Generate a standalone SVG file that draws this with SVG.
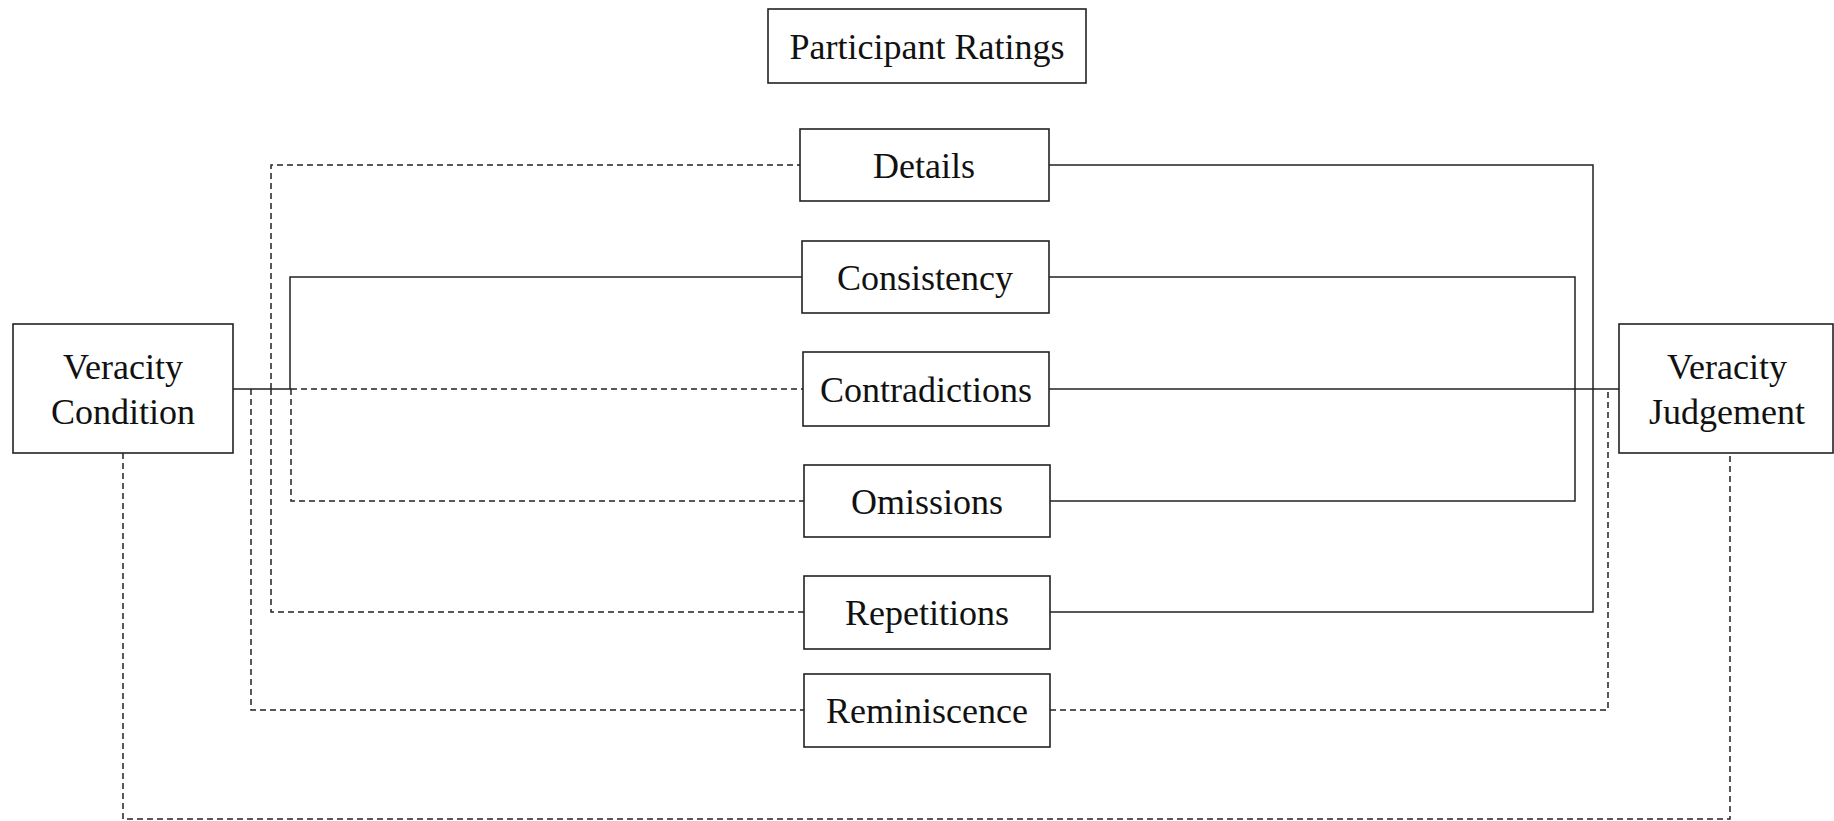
<svg xmlns="http://www.w3.org/2000/svg" width="1834" height="821" viewBox="0 0 1834 821">
<style>
.box{fill:#fff;stroke:#222;stroke-width:1.6}
.t{font-family:"Liberation Serif","Times New Roman",serif;font-size:36px;fill:#111;text-anchor:middle}
.s{fill:none;stroke:#222;stroke-width:1.5}
.d{fill:none;stroke:#222;stroke-width:1.5;stroke-dasharray:6 4}
</style>
<rect width="1834" height="821" fill="#fff"/>
<g id="connectors">
<path class="s" d="M233 389H291M290 389V277H802"/>
<path class="d" d="M291 389H803"/>
<path class="d" d="M291 389V501H804"/>
<path class="d" d="M271 389V165H800"/>
<path class="d" d="M271 389V612H804"/>
<path class="d" d="M251 389V710H804"/>
<path class="d" d="M123 453V819H1730V453"/>
<path class="s" d="M1049 165H1593V612H1050"/>
<path class="s" d="M1049 277H1575V501H1050"/>
<path class="s" d="M1049 389H1619"/>
<path class="d" d="M1050 710H1608V389"/>
</g>
<g id="participant-ratings"><rect class="box" x="768" y="9" width="318" height="74"/><text class="t" x="927" y="59">Participant Ratings</text></g>
<g id="veracity-condition"><rect class="box" x="13" y="324" width="220" height="129"/><text class="t" x="123" y="379">Veracity</text><text class="t" x="123" y="424">Condition</text></g>
<g id="veracity-judgement"><rect class="box" x="1619" y="324" width="214" height="129"/><text class="t" x="1727" y="379">Veracity</text><text class="t" x="1727" y="424">Judgement</text></g>
<g id="details"><rect class="box" x="800" y="129" width="249" height="72"/><text class="t" x="924" y="178">Details</text></g>
<g id="consistency"><rect class="box" x="802" y="241" width="247" height="72"/><text class="t" x="925" y="290">Consistency</text></g>
<g id="contradictions"><rect class="box" x="803" y="352" width="246" height="74"/><text class="t" x="926" y="402">Contradictions</text></g>
<g id="omissions"><rect class="box" x="804" y="465" width="246" height="72"/><text class="t" x="927" y="514">Omissions</text></g>
<g id="repetitions"><rect class="box" x="804" y="576" width="246" height="73"/><text class="t" x="927" y="625">Repetitions</text></g>
<g id="reminiscence"><rect class="box" x="804" y="674" width="246" height="73"/><text class="t" x="927" y="723">Reminiscence</text></g>
</svg>
